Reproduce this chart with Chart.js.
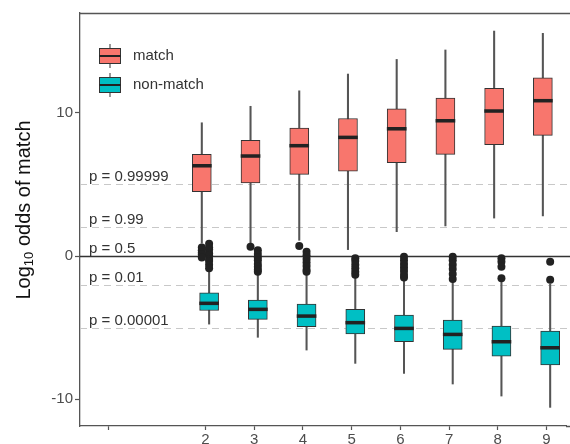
<!DOCTYPE html>
<html>
<head>
<meta charset="utf-8">
<script src="https://cdn.jsdelivr.net/npm/chart.js@4.4.0/dist/chart.umd.min.js"></script>
<style>
  html, body { margin: 0; padding: 0; background: #fff; overflow: hidden; }
  canvas { display: block; }
</style>
</head>
<body>
<canvas id="chart" width="570" height="444"></canvas>
<script>
// x positions (number of something) and axis ticks
const categories = [2, 3, 4, 5, 6, 7, 8, 9];
const axisTicks = [0, 2, 3, 4, 5, 6, 7, 8, 9];
const yTicks = [-10, 0, 10];

// match boxes (log10 odds)
const matchLow = [0.9, 0.85, 1.1, 0.45, 1.7, 2.1, 2.65, 2.8];
const matchQ1 = [4.5, 5.1, 5.7, 5.93, 6.51, 7.1, 7.77, 8.42];
const matchMed = [6.3, 6.98, 7.7, 8.28, 8.88, 9.44, 10.12, 10.84];
const matchQ3 = [7.1, 8.07, 8.93, 9.6, 10.28, 11.03, 11.7, 12.44];
const matchHigh = [9.3, 10.45, 11.53, 12.7, 13.72, 14.38, 15.7, 15.54];
const matchOutliers = [[0.6, 0.4, 0.25, 0.1, -0.1], [0.65], [0.7], [], [], [], [], []];

// non-match boxes
const nonLow = [-4.75, -5.67, -6.56, -7.49, -8.19, -8.93, -9.77, -10.56];
const nonQ1 = [-3.8, -4.42, -4.93, -5.44, -5.98, -6.51, -6.98, -7.6];
const nonMed = [-3.3, -3.72, -4.19, -4.65, -5.05, -5.47, -5.98, -6.4];
const nonQ3 = [-2.56, -3.07, -3.35, -3.72, -4.12, -4.47, -4.88, -5.23];
const nonHigh = [-1.0, -1.2, -1.2, -1.4, -1.6, -1.75, -1.7, -1.95];
const nonOutliers = [
  [0.85, 0.6, 0.45, 0.2, 0.05, -0.2, -0.35, -0.6, -0.85],
  [0.4, 0.15, -0.1, -0.3, -0.55, -0.75, -0.95, -1.1],
  [0.3, 0.05, -0.2, -0.45, -0.7, -0.95, -1.1],
  [-0.15, -0.35, -0.6, -0.85, -1.1, -1.3],
  [-0.05, -0.3, -0.55, -0.8, -1.05, -1.3, -1.5],
  [-0.05, -0.3, -0.6, -0.9, -1.25, -1.6],
  [-0.15, -0.4, -0.75, -1.55],
  [-0.4, -1.65]
];

// probability reference lines
const pLevels = ['0.99999', '0.99', '0.5', '0.01', '0.00001'];

const FONT = '"Liberation Sans", Arial, sans-serif';
const RED = '#F8766D';
const TEAL = '#00BFC4';
const DODGE = 0.075;

function boxSets(label, color, off, low, q1, med, q3, high, outl) {
  const xs = categories.map(c => c + off);
  return [
    { type: 'bar', label: label + ' whisker', order: 4, grouped: false, barThickness: 1.4,
      backgroundColor: '#555', borderWidth: 0,
      data: xs.map((x, i) => ({ x: x, y: [low[i], high[i]] })) },
    { type: 'bar', label: label, order: 3, grouped: false, barThickness: 19,
      backgroundColor: color, borderColor: '#333', borderWidth: 1, borderSkipped: false,
      data: xs.map((x, i) => ({ x: x, y: [q1[i], q3[i]] })) },
    { type: 'bar', label: label + ' median', order: 2, grouped: false, barThickness: 19,
      backgroundColor: '#222', borderWidth: 0,
      data: xs.map((x, i) => ({ x: x, y: [med[i] - 0.1, med[i] + 0.1] })) },
    { type: 'scatter', label: label + ' outliers', order: 1,
      pointRadius: 4, backgroundColor: '#222', borderWidth: 0,
      data: outl.flatMap((vals, i) => vals.map(v => ({ x: xs[i], y: v }))) }
  ];
}

const extras = {
  id: 'extras',
  beforeDatasetsDraw(chart) {
    const { ctx, chartArea: a, scales: { y } } = chart;
    ctx.save();
    pLevels.forEach(p => {
      const pv = parseFloat(p);
      const py = Math.round(y.getPixelForValue(Math.log10(pv / (1 - pv)))) + 0.5;
      ctx.beginPath();
      if (p === '0.5') {
        ctx.setLineDash([]); ctx.strokeStyle = '#333'; ctx.lineWidth = 1.3;
      } else {
        ctx.setLineDash([7, 5]); ctx.strokeStyle = '#c8c8c8'; ctx.lineWidth = 1.2;
      }
      ctx.moveTo(a.left, py);
      ctx.lineTo(chart.width, py);
      ctx.stroke();
      ctx.setLineDash([]);
      ctx.fillStyle = '#333';
      ctx.font = '15px ' + FONT;
      ctx.textBaseline = 'alphabetic';
      ctx.textAlign = 'left';
      ctx.fillText('p = ' + p, 89, py - 4);
    });
    ctx.restore();
  },
  afterDraw(chart) {
    const { ctx, chartArea: a } = chart;
    ctx.save();
    // top panel border
    ctx.strokeStyle = '#555';
    ctx.lineWidth = 1.3;
    ctx.beginPath();
    ctx.moveTo(a.left, a.top + 0.5);
    ctx.lineTo(chart.width, a.top + 0.5);
    ctx.moveTo(a.right, a.bottom + 0.5);
    ctx.lineTo(chart.width, a.bottom + 0.5);
    ctx.stroke();

    // legend
    [['match', RED, 56], ['non-match', TEAL, 85]].forEach(([txt, col, cy]) => {
      ctx.strokeStyle = '#555';
      ctx.lineWidth = 1.2;
      ctx.beginPath();
      ctx.moveTo(110, cy - 12); ctx.lineTo(110, cy + 12);
      ctx.stroke();
      ctx.fillStyle = col;
      ctx.fillRect(99.5, cy - 7.5, 21, 15);
      ctx.strokeStyle = '#333';
      ctx.lineWidth = 1;
      ctx.strokeRect(99.5, cy - 7.5, 21, 15);
      ctx.fillStyle = '#222';
      ctx.fillRect(99.5, cy - 1, 21, 2);
      ctx.fillStyle = '#333';
      ctx.font = '15px ' + FONT;
      ctx.textBaseline = 'middle';
      ctx.textAlign = 'left';
      ctx.fillText(txt, 133, cy);
    });

    // y axis title with subscript
    ctx.translate(30, 210);
    ctx.rotate(-Math.PI / 2);
    ctx.fillStyle = '#111';
    ctx.textBaseline = 'alphabetic';
    ctx.textAlign = 'left';
    const big = '20px ' + FONT, small = '13px ' + FONT;
    ctx.font = big; const w1 = ctx.measureText('Log').width;
    ctx.font = small; const w2 = ctx.measureText('10').width;
    ctx.font = big; const w3 = ctx.measureText(' odds of match').width;
    let x0 = -(w1 + w2 + w3) / 2;
    ctx.font = big; ctx.fillText('Log', x0, 0);
    ctx.font = small; ctx.fillText('10', x0 + w1, 3);
    ctx.font = big; ctx.fillText(' odds of match', x0 + w1 + w2, 0);
    ctx.restore();
  }
};

new Chart(document.getElementById('chart').getContext('2d'), {
  type: 'bar',
  data: {
    datasets: [
      ...boxSets('match', RED, -DODGE, matchLow, matchQ1, matchMed, matchQ3, matchHigh, matchOutliers),
      ...boxSets('non-match', TEAL, DODGE, nonLow, nonQ1, nonMed, nonQ3, nonHigh, nonOutliers)
    ]
  },
  options: {
    responsive: false,
    animation: false,
    devicePixelRatio: 1,
    layout: { padding: { top: 13, right: 0, left: 0, bottom: 0 } },
    plugins: { legend: { display: false }, tooltip: { enabled: false } },
    scales: {
      x: {
        type: 'linear',
        offset: false,
        min: -0.575,
        max: 9.40,
        afterBuildTicks: s => { s.ticks = axisTicks.map(v => ({ value: v })); },
        afterFit: s => { s.height = 18; s.paddingLeft = 0; s.paddingRight = 0; },
        ticks: {
          callback: v => (v >= 2 ? String(v) : ''),
          color: '#4d4d4d', font: { size: 15, family: FONT }, padding: 1,
          maxRotation: 0, autoSkip: false
        },
        grid: { offset: false, drawOnChartArea: false, tickLength: 4, tickColor: '#555', tickWidth: 1.2 },
        border: { color: '#555', width: 1.3 }
      },
      y: {
        min: -11.86,
        max: 16.96,
        afterBuildTicks: s => { s.ticks = yTicks.map(v => ({ value: v })); },
        afterFit: s => { s.width = 80; s.paddingTop = 0; s.paddingBottom = 0; },
        ticks: { color: '#4d4d4d', font: { size: 15, family: FONT }, padding: 2 },
        grid: { drawOnChartArea: false, tickLength: 5, tickColor: '#555', tickWidth: 1.2 },
        border: { color: '#555', width: 1.3 }
      }
    }
  },
  plugins: [extras]
});
</script>
</body>
</html>
